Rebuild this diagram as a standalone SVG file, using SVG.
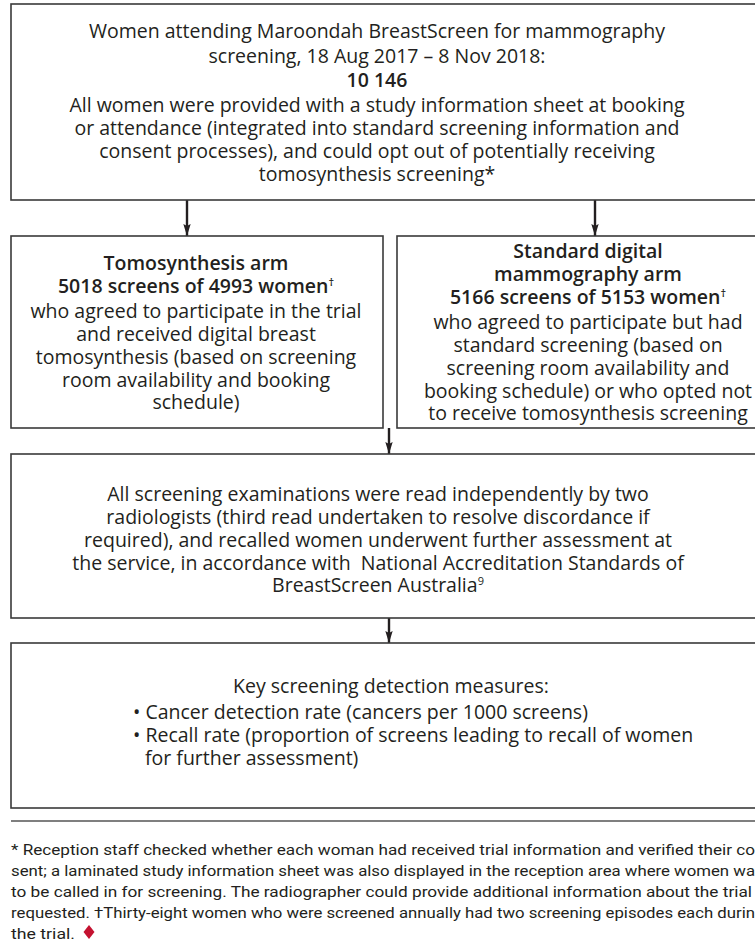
<svg xmlns="http://www.w3.org/2000/svg" width="755" height="951" viewBox="0 0 755 951">
<defs>
<marker id="ah" markerUnits="userSpaceOnUse" markerWidth="12" markerHeight="20" refX="18" refY="5.5" orient="auto" viewBox="0 0 18 11">
<path d="M0,0 L18,5.5 L0,11 L3,5.5 z" fill="#231f20"/>
</marker>
<style>
.box{fill:#fff;stroke:#3a3a3a;stroke-width:1.6}
.t{font-family:"Open Sans","Liberation Sans",sans-serif;font-size:19.5px;fill:#231f20;text-anchor:middle}
.b{font-weight:600}
.l{text-anchor:start}
.fn{font-family:Roboto,"Liberation Sans",sans-serif;font-size:15.5px;fill:#231f20}
.sup{font-size:11px}
.con{stroke:#231f20;stroke-width:2.4;fill:none}
</style>
</defs>
<rect width="755" height="951" fill="#fff"/>

<g id="connectors">
<line class="con" x1="187" y1="200" x2="187" y2="236" marker-end="url(#ah)"/>
<line class="con" x1="595" y1="200" x2="595" y2="236" marker-end="url(#ah)"/>
<line class="con" x1="389" y1="428" x2="389" y2="454" marker-end="url(#ah)"/>
<line class="con" x1="389" y1="618" x2="389" y2="643" marker-end="url(#ah)"/>
</g>

<g id="node-start">
<rect class="box" x="11" y="4" width="760" height="196"/>
<text class="t" x="377" y="38">Women attending Maroondah BreastScreen for mammography</text>
<text class="t" x="377" y="63">screening, 18 Aug 2017 – 8 Nov 2018:</text>
<text class="t b" x="377" y="87">10 146</text>
<text class="t" x="377" y="112">All women were provided with a study information sheet at booking</text>
<text class="t" x="377" y="135">or attendance (integrated into standard screening information and</text>
<text class="t" x="377" y="158">consent processes), and could opt out of potentially receiving</text>
<text class="t" x="377" y="181">tomosynthesis screening*</text>
</g>

<g id="node-tomo">
<rect class="box" x="11" y="236" width="372" height="192"/>
<text class="t b" x="196" y="270">Tomosynthesis arm</text>
<text class="t b" x="196" y="293">5018 screens of 4993 women<tspan class="sup" dy="-7">†</tspan></text>
<text class="t" x="196" y="318">who agreed to participate in the trial</text>
<text class="t" x="196" y="341">and received digital breast</text>
<text class="t" x="196" y="364">tomosynthesis (based on screening</text>
<text class="t" x="196" y="387">room availability and booking</text>
<text class="t" x="196" y="409">schedule)</text>
</g>

<g id="node-standard">
<rect class="box" x="397" y="236" width="380" height="192"/>
<text class="t b" x="588" y="258">Standard digital</text>
<text class="t b" x="588" y="281">mammography arm</text>
<text class="t b" x="588" y="304">5166 screens of 5153 women<tspan class="sup" dy="-7">†</tspan></text>
<text class="t" x="588" y="329">who agreed to participate but had</text>
<text class="t" x="588" y="352">standard screening (based on</text>
<text class="t" x="588" y="375">screening room availability and</text>
<text class="t" x="588" y="398">booking schedule) or who opted not</text>
<text class="t" x="588" y="420">to receive tomosynthesis screening</text>
</g>

<g id="node-reading">
<rect class="box" x="11" y="454" width="760" height="164"/>
<text class="t" x="378" y="501">All screening examinations were read independently by two</text>
<text class="t" x="378" y="524">radiologists (third read undertaken to resolve discordance if</text>
<text class="t" x="378" y="547">required), and recalled women underwent further assessment at</text>
<text class="t" x="378" y="570" xml:space="preserve">the service, in accordance with  National Accreditation Standards of</text>
<text class="t" x="378" y="592">BreastScreen Australia<tspan class="sup" dy="-7">9</tspan></text>
</g>

<g id="node-measures">
<rect class="box" x="11" y="643" width="760" height="165"/>
<text class="t" x="391" y="693">Key screening detection measures:</text>
<text class="t l" x="133" y="719">• Cancer detection rate (cancers per 1000 screens)</text>
<text class="t l" x="133" y="742">• Recall rate (proportion of screens leading to recall of women</text>
<text class="t l" x="145" y="765">for further assessment)</text>
</g>

<g id="footnote">
<line x1="11" y1="821" x2="760" y2="821" stroke="#555" stroke-width="1.5"/>
<text class="fn" x="11" y="855" textLength="744" lengthAdjust="spacingAndGlyphs">* Reception staff checked whether each woman had received trial information and verified their co</text>
<text class="fn" x="11" y="876" textLength="744" lengthAdjust="spacingAndGlyphs">sent; a laminated study information sheet was also displayed in the reception area where women wa</text>
<text class="fn" x="11" y="897" textLength="741" lengthAdjust="spacingAndGlyphs">to be called in for screening. The radiographer could provide additional information about the trial</text>
<text class="fn" x="11" y="918" textLength="744" lengthAdjust="spacingAndGlyphs">requested. †Thirty-eight women who were screened annually had two screening episodes each durin</text>
<text class="fn" x="11" y="939" textLength="64" lengthAdjust="spacingAndGlyphs">the trial.</text>
<path d="M89,925 L94.5,932 L89,939 L83.5,932 z" fill="#c41230"/>
</g>
</svg>
